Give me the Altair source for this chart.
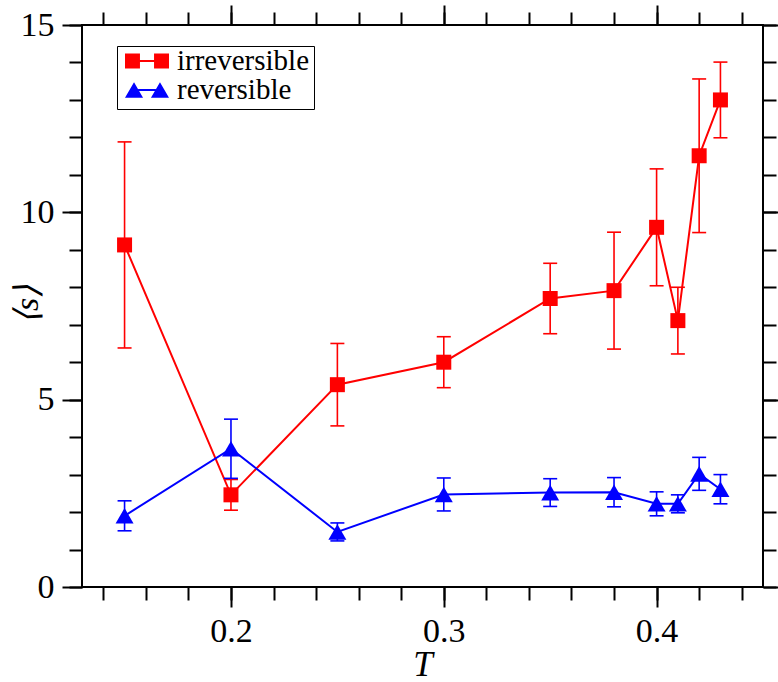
import altair as alt
import pandas as pd

# Temperatures and mean sizes with their error bars
T = [0.15, 0.20, 0.25, 0.30, 0.35, 0.38, 0.40, 0.41, 0.42, 0.43]
irr_mean = [9.13, 2.46, 5.40, 6.00, 7.70, 7.91, 9.60, 7.11, 11.51, 13.00]
irr_err = [2.75, 0.41, 1.10, 0.68, 0.94, 1.56, 1.56, 0.89, 2.05, 1.01]
rev_mean = [1.90, 3.69, 1.47, 2.47, 2.52, 2.53, 2.22, 2.22, 3.02, 2.61]
rev_err = [0.40, 0.79, 0.24, 0.44, 0.37, 0.39, 0.32, 0.24, 0.44, 0.39]

series_names = ["irreversible", "reversible"]
series_colors = ["#ff0000", "#0000ff"]

# Tick positions
x_major = [0.2, 0.3, 0.4]
x_minor = [0.14, 0.16, 0.18, 0.20, 0.22, 0.24, 0.26, 0.28, 0.30,
           0.32, 0.34, 0.36, 0.38, 0.40, 0.42, 0.44]
y_major = [0, 5, 10, 15]
y_minor = [0, 1, 2, 3, 4, 5, 6, 7, 8, 9, 10, 11, 12, 13, 14, 15]

FONT = "Liberation Serif"


def frame(names, means, errs):
    return pd.DataFrame({
        "T": T,
        "s": means,
        "lo": [m - e for m, e in zip(means, errs)],
        "hi": [m + e for m, e in zip(means, errs)],
        "series": names,
    })


irr = frame(series_names[0], irr_mean, irr_err)
rev = frame(series_names[1], rev_mean, rev_err)
both = pd.concat([irr, rev], ignore_index=True)

x_scale = alt.Scale(domain=[0.13, 0.45], nice=False, zero=False)
y_scale = alt.Scale(domain=[0, 15], nice=False, zero=False)


def make_axis(orient, values, size, labels, **kw):
    return alt.Axis(
        orient=orient, values=values, tickSize=size, tickWidth=2,
        tickColor="black", labels=labels, domain=False, grid=False,
        labelFont=FONT, labelFontSize=34, labelColor="black",
        **kw,
    )


x_main = make_axis("bottom", x_major, 20, True, format=".1f", labelPadding=7,
                   title="T", titleFont=FONT, titleFontSize=35,
                   titleFontStyle="italic", titleFontWeight="normal",
                   titleColor="black", titleBaseline="alphabetic", titleY=88)
y_main = make_axis("left", y_major, 20, True, labelPadding=8,
                   title="⟨s⟩", titleFont=FONT, titleFontSize=34,
                   titleFontStyle="italic", titleFontWeight="normal",
                   titleColor="black", titleAngle=270, titleBaseline="middle",
                   titleAlign="center", titleX=-55, titleY=279)


def X(axis):
    return alt.X("T:Q", scale=x_scale, axis=axis)


def Y(field, axis):
    return alt.Y(field, type="quantitative", scale=y_scale, axis=axis)


def series_layers(df, color, shape, size):
    base = alt.Chart(df)
    line = base.mark_line(color=color, strokeWidth=2).encode(
        x=X(x_main), y=Y("s", y_main))
    bars = base.mark_rule(color=color, strokeWidth=1.6).encode(
        x=X(x_main), y=Y("lo", y_main), y2="hi:Q")
    cap_lo = base.mark_tick(color=color, orient="horizontal", size=14,
                            thickness=1.6, opacity=1).encode(
        x=X(x_main), y=Y("lo", y_main))
    cap_hi = base.mark_tick(color=color, orient="horizontal", size=14,
                            thickness=1.6, opacity=1).encode(
        x=X(x_main), y=Y("hi", y_main))
    pts = base.mark_point(shape=shape, size=size, filled=True, color=color,
                          opacity=1).encode(x=X(x_main), y=Y("s", y_main))
    return [line, bars, cap_lo, cap_hi, pts]


data_layer = alt.layer(
    *series_layers(irr, series_colors[0], "square", 225),
    *series_layers(rev, series_colors[1], "triangle-up", 324),
)


def ghost(x_axis, y_axis):
    return alt.Chart(both).mark_point(opacity=0).encode(
        x=X(x_axis), y=Y("s", y_axis))


bottom_minor = ghost(make_axis("bottom", x_minor, 13, False, title=None),
                     make_axis("left", y_minor, 13, False, title=None))
top_major = ghost(make_axis("top", x_major, 20, False, title=None),
                  make_axis("right", y_major, 20, False, title=None))
top_minor = ghost(make_axis("top", x_minor, 13, False, title=None),
                  make_axis("right", y_minor, 13, False, title=None))

# Legend symbols: marker - line - marker
sq_path = ("M-1,-0.34H-0.32V0.34H-1Z M0.32,-0.34H1V0.34H0.32Z "
           "M-0.32,-0.045H0.32V0.045H-0.32Z")
tri_path = ("M-0.59,-0.355L-0.18,0.355L-1,0.355Z "
            "M0.59,-0.355L1,0.355L0.18,0.355Z "
            "M-0.4,-0.045H0.4V0.045H-0.4Z")

legend = alt.Legend(
    title=None, orient="none", legendX=35, legendY=21,
    labelFont=FONT, labelFontSize=29, labelColor="black", labelLimit=400,
    labelOffset=8, symbolSize=1936, symbolStrokeWidth=0, symbolOpacity=1,
    symbolOffset=4, strokeColor="black", fillColor="white", padding=4,
    rowPadding=0, clipHeight=22,
)

legend_layer = alt.Chart(both).mark_point(filled=True, size=1936, opacity=1).encode(
    color=alt.Color("series:N", scale=alt.Scale(domain=series_names,
                                                range=series_colors),
                    legend=legend),
    shape=alt.Shape("series:N", scale=alt.Scale(domain=series_names,
                                                range=[sq_path, tri_path]),
                    legend=legend),
).transform_filter("false")

chart = alt.layer(
    data_layer, bottom_minor, top_major, top_minor, legend_layer
).resolve_axis(
    x="independent", y="independent"
).properties(
    width=681, height=562,
    autosize=alt.AutoSizeParams(type="none"),
    padding={"left": 82, "top": 25, "right": 15, "bottom": 95},
    background="white",
).configure(
    font=FONT,
).configure_axis(
    labelFont=FONT, titleFont=FONT,
).configure_legend(
    labelFont=FONT,
).configure_view(
    stroke="black", strokeWidth=2,
)

chart.save("out.html", embed_options={"renderer": "svg", "actions": False})
